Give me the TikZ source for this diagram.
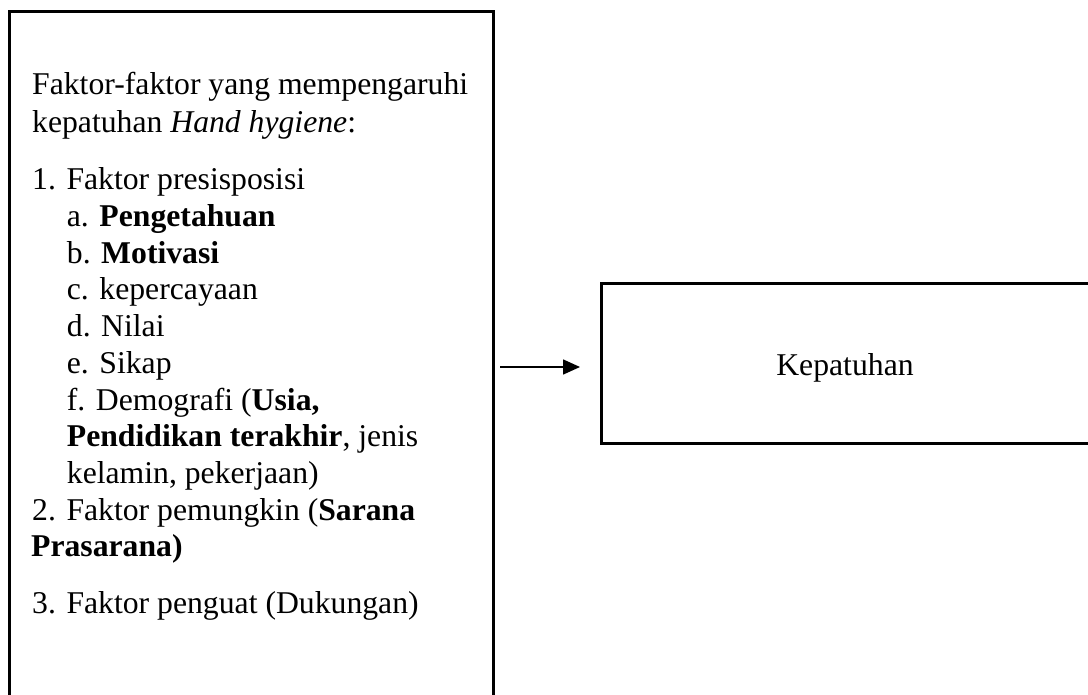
\documentclass[tikz,border=0pt]{standalone}
\usepackage{fontspec}
\setmainfont{Liberation Serif}
\usetikzlibrary{arrows.meta}
\begin{document}
\begin{tikzpicture}[x=1pt,y=-1pt,
  boxline/.style={draw=black,line width=3pt,inner sep=0pt,outer sep=0pt},
  txt/.style={anchor=base west,inner sep=0pt,font=\fontsize{31.7}{36.7}\selectfont},
  arr/.style={line width=1.6pt,-{Triangle[length=17pt,width=15pt]}}]
\useasboundingbox (0,0) rectangle (1088,695);
\clip (0,0) rectangle (1088,695);
\fill[white] (0,0) rectangle (1088,695);
% boxes
\node[boxline,minimum width=483.5pt,minimum height=711pt,anchor=north west] (L) at (9.5,11.5) {};
\node[boxline,minimum width=520pt,minimum height=160pt,anchor=north west] (R) at (601.5,283.5) {};
% left text
\node[txt] (t1) at (32,95) {Faktor-faktor yang mempengaruhi};
\node[txt] (t2) at (32,132.5) {kepatuhan \textit{Hand hygiene}:};
\node[txt] (t3) at (32,190) {1. Faktor presisposisi};
\node[txt] (t4) at (66.7,226.7) {a. \textbf{Pengetahuan}};
\node[txt] (t5) at (66.7,263.4) {b. \textbf{Motivasi}};
\node[txt] (t6) at (66.7,300) {c. kepercayaan};
\node[txt] (t7) at (66.7,336.7) {d. Nilai};
\node[txt] (t8) at (66.7,373.4) {e. Sikap};
\node[txt] (t9) at (66.7,410) {f. Demografi (\textbf{Usia,}};
\node[txt] (t10) at (66.7,446.7) {\textbf{Pendidikan terakhir}, jenis};
\node[txt] (t11) at (66.7,483.4) {kelamin, pekerjaan)};
\node[txt] (t12) at (32,520) {2. Faktor pemungkin (\textbf{Sarana}};
\node[txt] (t13) at (31,556.7) {\textbf{Prasarana)}};
\node[txt] (t14) at (32,613.4) {3. Faktor penguat (Dukungan)};
% right text
\node[txt,anchor=base] (k) at (845,375) {Kepatuhan};
% arrow
\draw[arr] ([xshift=7pt]L.east) -- ([xshift=-21.5pt]R.west |- L.east);
\end{tikzpicture}
\end{document}
